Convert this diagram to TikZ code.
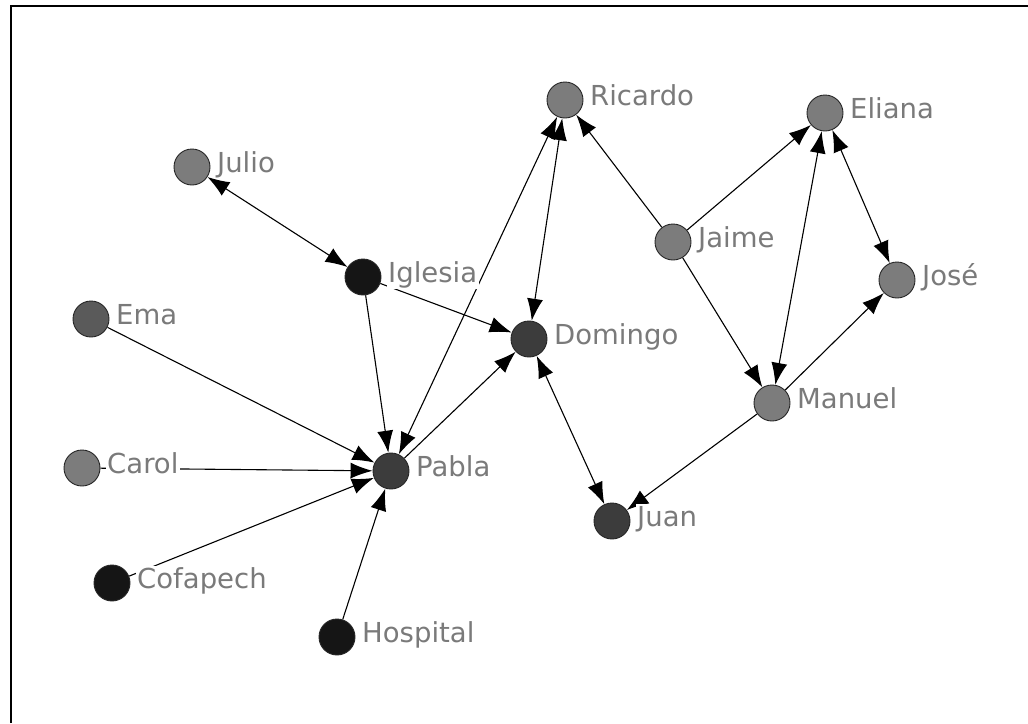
\documentclass[tikz,border=0pt]{standalone}
\usepackage{fontspec}
\setmainfont{DejaVu Sans}
\usetikzlibrary{arrows.meta,calc,backgrounds}

\definecolor{tonelight}{HTML}{7C7C7C}
\definecolor{tonemid}{HTML}{5A5A5A}
\definecolor{tonedark}{HTML}{3C3C3C}
\definecolor{toneblack}{HTML}{151515}
\definecolor{namegray}{HTML}{7A7A7A}

\tikzset{
  actor/.style={circle, minimum size=36pt, inner sep=0pt, draw=black!85, line width=0.9pt},
  light/.style={actor, fill=tonelight},
  mid/.style={actor, fill=tonemid},
  dark/.style={actor, fill=tonedark},
  inky/.style={actor, fill=toneblack},
  name tag/.style={anchor=base west, fill=white, inner sep=1.5pt, text=namegray,
    font=\fontsize{27.5}{30}\selectfont},
  link/.style={line width=1.1pt, draw=black,
    -{Latex[length=22pt,width=16pt]}},
  both/.style={line width=1.1pt, draw=black,
    {Latex[length=22pt,width=16pt]}-{Latex[length=22pt,width=16pt]}},
}

\begin{document}
\begin{tikzpicture}[x=1pt,y=-1pt]
  \useasboundingbox (0,0) rectangle (1028,723);
  % frame on the left and top
  \draw[line width=2.4pt] (11,723) -- (11,6) -- (1028,6);

  % people and organisations
  \node[light] (Ricardo)  at (565,100) {};
  \node[light] (Eliana)   at (825,113) {};
  \node[light] (Julio)    at (192,167) {};
  \node[light] (Jaime)    at (673,242) {};
  \node[inky]  (Iglesia)  at (363,277) {};
  \node[light] (Jose)     at (897,280) {};
  \node[mid]   (Ema)      at (91,319)  {};
  \node[dark]  (Domingo)  at (529,339) {};
  \node[light] (Manuel)   at (772,403) {};
  \node[light] (Carol)    at (82,468)  {};
  \node[dark]  (Pabla)    at (391,471) {};
  \node[dark]  (Juan)     at (612,521) {};
  \node[inky]  (Cofapech) at (112,583) {};
  \node[inky]  (Hospital) at (337,637) {};

  % names beside the circles
  \foreach \who/\txt in {Ricardo/Ricardo, Eliana/Eliana, Julio/Julio, Jaime/Jaime,
      Iglesia/Iglesia, Jose/José, Ema/Ema, Domingo/Domingo, Manuel/Manuel,
      Carol/Carol, Pabla/Pabla, Juan/Juan, Cofapech/Cofapech, Hospital/Hospital}
    \node[name tag] (\who-name) at ($(\who.center)+(23.5,5)$) {\txt};

  % relations, kept underneath circles and names
  \begin{pgfonlayer}{background}
    \draw[both] (Julio) -- (Iglesia);
    \draw[link] (Iglesia) -- (Pabla);
    \draw[link] (Iglesia) -- (Domingo);
    \draw[link] (Ema) -- (Pabla);
    \draw[link] (Carol) -- (Pabla);
    \draw[link] (Cofapech) -- (Pabla);
    \draw[link] (Hospital) -- (Pabla);
    \draw[both] (Pabla) -- (Ricardo);
    \draw[link] (Pabla) -- (Domingo);
    \draw[both] (Domingo) -- (Ricardo);
    \draw[both] (Domingo) -- (Juan);
    \draw[link] (Jaime) -- (Ricardo);
    \draw[link] (Jaime) -- (Eliana);
    \draw[link] (Jaime) -- (Manuel);
    \draw[both] (Manuel) -- (Eliana);
    \draw[both] (Eliana) -- (Jose);
    \draw[link] (Manuel) -- (Jose);
    \draw[link] (Manuel) -- (Juan);
  \end{pgfonlayer}
\end{tikzpicture}
\end{document}
